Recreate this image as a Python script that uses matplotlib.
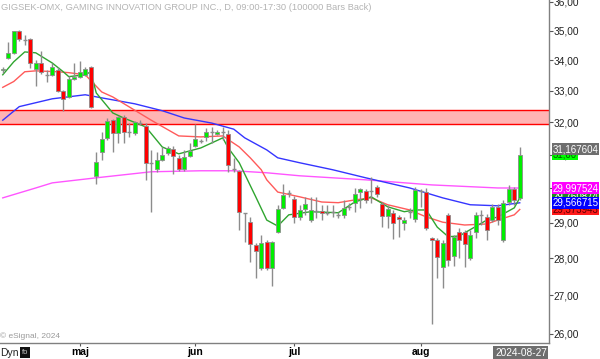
import matplotlib
matplotlib.use("Agg")
import matplotlib.pyplot as plt
import matplotlib.ticker as mticker
import pandas as pd

plt.rcParams["font.family"] = ["Liberation Sans", "DejaVu Sans"]

# daily candles, Apr 11 - Aug 27 2024 (Stockholm trading days)
holidays = ["2024-05-01", "2024-05-09", "2024-06-06", "2024-06-21"]
dates = pd.bdate_range("2024-04-11", "2024-08-27", freq="C", holidays=holidays)

opens = [33.68, 34.08, 34.25, 34.99, 34.68, 34.72, 33.72, 33.91, 33.50, 33.52,
         33.68, 32.99, 32.80, 33.37, 33.46, 33.52, 33.78, 30.36, 31.08, 31.51,
         32.06, 31.66, 32.16, 31.70, 31.66, 31.96, 31.88, 30.74, 30.57, 30.84,
         31.05, 31.17, 30.90, 30.57, 30.96, 31.26, 31.40, 31.54, 31.70, 31.63,
         31.69, 31.63, 30.55, 30.51, 29.26, 29.01, 28.37, 27.74, 28.46, 27.74,
         28.74, 29.42, 29.85, 29.68, 29.16, 29.39, 29.07, 29.33, 29.33, 29.28,
         29.31, 29.22, 29.22, 29.45, 29.57, 29.88, 29.91, 29.90, 30.03, 29.54,
         29.19, 29.28, 29.16, 28.99, 29.30, 29.10, 29.92, 29.88, 28.57, 28.51,
         27.77, 29.22, 28.06, 28.74, 28.74, 28.01, 28.74, 29.21, 29.16, 29.07,
         29.45, 28.51, 29.59, 29.97, 29.71]
highs = [33.78, 34.62, 35.00, 35.02, 34.85, 34.75, 34.01, 34.31, 33.68, 33.91,
         33.78, 33.02, 33.49, 33.91, 33.98, 33.78, 33.81, 31.08, 31.69, 32.13,
         32.10, 32.20, 32.23, 31.97, 32.03, 32.06, 31.97, 31.14, 31.08, 31.23,
         31.26, 31.26, 30.99, 31.14, 31.36, 31.94, 31.48, 31.82, 31.85, 31.75,
         31.85, 31.75, 30.90, 30.54, 29.27, 29.16, 28.43, 28.65, 28.51, 28.48,
         29.51, 30.12, 29.94, 29.77, 29.51, 29.74, 29.74, 29.74, 29.51, 29.51,
         29.51, 29.31, 29.65, 29.57, 30.00, 30.00, 29.97, 30.33, 30.09, 29.59,
         29.51, 29.36, 29.22, 29.16, 29.42, 30.03, 29.97, 30.00, 28.58, 28.57,
         28.51, 29.28, 28.65, 28.85, 28.79, 28.79, 29.31, 29.36, 29.25, 29.54,
         29.54, 29.65, 30.09, 30.03, 31.23]
lows = [33.59, 34.04, 34.20, 34.65, 34.52, 33.75, 33.14, 33.55, 33.27, 33.48,
        32.95, 32.36, 32.75, 33.35, 33.43, 33.49, 32.45, 30.12, 30.84, 31.45,
        31.08, 31.36, 31.36, 31.54, 31.60, 31.90, 30.24, 29.31, 30.48, 30.80,
        30.99, 30.42, 30.51, 30.51, 30.93, 31.23, 31.36, 31.42, 31.36, 31.60,
        31.45, 30.48, 30.48, 28.79, 28.46, 27.90, 27.47, 27.68, 27.68, 27.25,
        28.70, 29.39, 29.74, 28.99, 29.07, 29.22, 29.01, 29.13, 29.07, 29.22,
        29.16, 29.13, 29.13, 29.36, 29.31, 29.42, 29.57, 29.57, 29.74, 28.87,
        28.85, 28.54, 28.60, 28.79, 29.13, 29.01, 29.45, 28.79, 26.26, 27.47,
        27.20, 27.79, 27.79, 28.01, 27.77, 27.95, 28.57, 28.93, 28.51, 29.01,
        28.93, 28.46, 29.51, 29.51, 29.65]
closes = [33.72, 34.25, 34.99, 34.72, 34.70, 33.91, 33.91, 33.62, 33.48, 33.78,
          32.99, 32.74, 33.37, 33.46, 33.62, 33.72, 32.49, 30.78, 31.48, 32.03,
          31.66, 32.16, 31.69, 31.69, 32.00, 31.97, 30.75, 30.72, 30.84, 30.99,
          31.20, 30.96, 30.57, 30.93, 31.11, 31.48, 31.38, 31.69, 31.68, 31.69,
          31.70, 30.69, 30.54, 29.31, 29.25, 28.40, 28.21, 28.43, 27.74, 28.46,
          29.39, 29.80, 29.86, 29.16, 29.36, 29.54, 29.36, 29.34, 29.28, 29.31,
          29.28, 29.23, 29.42, 29.44, 29.83, 29.97, 29.65, 29.91, 29.83, 29.19,
          29.39, 28.99, 29.10, 29.07, 29.31, 29.94, 29.91, 28.85, 28.51, 28.04,
          28.43, 27.95, 28.60, 28.51, 28.40, 28.65, 29.22, 29.22, 28.79, 29.45,
          29.07, 29.57, 29.97, 29.65, 31.00]

# moving averages (bar index, price)
ma_long_idx = [0, 6, 9, 17, 27, 36, 42, 48, 54, 66, 78, 90, 94]
ma_long = [29.71, 30.00, 30.15, 30.30, 30.48, 30.51, 30.51, 30.45, 30.36,
           30.24, 30.09, 30.00, 29.998]
ma_mid_idx = [0, 3, 9, 15, 18, 24, 29, 33, 38, 42, 44, 48, 50, 54, 60, 66,
              74, 80, 85, 90, 94]
ma_mid = [32.06, 32.49, 32.74, 32.87, 32.77, 32.58, 32.36, 32.13, 31.97,
          31.78, 31.51, 31.14, 30.90, 30.75, 30.54, 30.30, 30.00, 29.71,
          29.51, 29.48, 29.567]
ma_red_idx = [0, 2, 4, 6, 10, 12, 15, 18, 20, 27, 32, 36, 40, 43, 45, 47, 48,
              50, 54, 58, 61, 64, 67, 70, 74, 77, 80, 84, 88, 90, 93, 94]
ma_red = [33.11, 33.30, 33.62, 33.65, 33.62, 33.59, 33.52, 32.96, 32.80,
          32.06, 31.57, 31.54, 31.57, 31.23, 30.90, 30.54, 30.24, 29.88,
          29.74, 29.59, 29.57, 29.65, 29.71, 29.51, 29.36, 29.16, 29.01,
          28.93, 28.96, 29.07, 29.22, 29.374]
ma_fast_idx = [0, 2, 4, 6, 9, 11, 12, 15, 16, 17, 20, 22, 26, 29, 32, 36, 40,
               41, 43, 46, 48, 50, 52, 56, 61, 64, 67, 70, 73, 75, 77, 79, 81,
               83, 88, 90, 93, 94]
ma_fast = [33.52, 33.95, 34.28, 34.25, 33.91, 33.62, 33.46, 33.52, 33.62,
           32.93, 32.29, 32.13, 31.85, 31.23, 31.02, 31.20, 31.51, 31.20,
           30.75, 29.74, 29.07, 28.90, 29.22, 29.31, 29.28, 29.59, 29.74,
           29.45, 29.31, 29.36, 29.36, 28.87, 28.60, 28.62, 29.07, 29.16,
           29.42, 29.71]

zone_low, zone_high = 31.94, 32.38
yticks = [26, 27, 28, 29, 30, 31, 32, 33, 34, 35, 36]
month_names = {5: "maj", 6: "jun", 7: "jul", 8: "aug"}

# right-hand value tags: (value, text, face, text colour, z)
tags = [(31.00, "31,00", "#00ff00", "#006400", 5),
        (31.167604, "31,167604", "#6e6e6e", "white", 6),
        (29.760874, "29,760874", "#1f8a1f", "white", 5),
        (29.373943, "29,373943", "#ff1a1a", "#5a0000", 5),
        (29.997524, "29,997524", "#ff00ff", "white", 6),
        (29.566715, "29,566715", "#0000ff", "white", 7)]

fig = plt.figure(figsize=(6, 3.59), dpi=100)
ax = fig.add_axes([0, 16 / 359, 549 / 600, 343 / 359])

ax.set_yscale("log")
n = len(closes)
x = list(range(n))

# resistance zone
ax.axhspan(zone_low, zone_high, color="#ffb4b4", zorder=1, lw=0)
ax.axhline(zone_low, color="#ff0000", lw=1, zorder=1.1)
ax.axhline(zone_high, color="#ff0000", lw=1, zorder=1.1)

ax.plot(ma_long_idx, ma_long, color="#ff55ff", lw=1, zorder=2)
ax.plot(ma_mid_idx, ma_mid, color="#3535ff", lw=1, zorder=2)
ax.plot(ma_red_idx, ma_red, color="#ff5a5a", lw=1, zorder=2)
ax.plot(ma_fast_idx, ma_fast, color="#2fa52f", lw=1, zorder=2)

# candles
ax.vlines(x, lows, highs, color="#8c8c8c", lw=1, zorder=3)
for i in x:
    o, c = opens[i], closes[i]
    col = "#00ee00" if c >= o else "#ff0000"
    lo, hi = min(o, c), max(o, c)
    if hi - lo < 0.03:
        ax.hlines(o, i - 0.38, i + 0.38, color="#8c8c8c", lw=1, zorder=4)
    else:
        ax.bar(i, hi - lo, bottom=lo, width=0.72, color=col,
               edgecolor="#8c8c8c", lw=0.6, zorder=4)

ax.set_xlim(-0.5, -0.5 + 549 / 5.5)
ax.set_ylim(25.77, 36.07)

ax.yaxis.tick_right()
ax.yaxis.set_major_locator(mticker.FixedLocator(yticks))
ax.yaxis.set_minor_locator(mticker.NullLocator())
ax.yaxis.set_major_formatter(
    mticker.FuncFormatter(lambda v, p: f"{v:.2f}".replace(".", ",")))
ax.tick_params(axis="y", length=3, width=0.8, color="#555555",
               labelsize=7.3, labelcolor="#222222", pad=0.5)

month_pos = [i for i in range(1, n) if dates[i].month != dates[i - 1].month]
ax.set_xticks(month_pos)
ax.set_xticklabels([month_names[dates[i].month] for i in month_pos],
                   fontweight="bold", fontsize=7.5)
ax.tick_params(axis="x", length=2, color="#555555", pad=1)

for s in ["top", "left"]:
    ax.spines[s].set_visible(False)
for s in ["right", "bottom"]:
    ax.spines[s].set_color("#808080")
    ax.spines[s].set_linewidth(1)

for val, txt, face, tcol, z in tags:
    ax.annotate(txt, xy=(1.0, val), xycoords=("axes fraction", "data"),
                xytext=(2.5, 0), textcoords="offset points", fontsize=7,
                color=tcol, va="center", ha="left", zorder=z,
                annotation_clip=False,
                bbox=dict(boxstyle="square,pad=0.1", fc=face, ec="none"))

fig.text(0.002, 0.992, "GIGSEK-OMX, GAMING INNOVATION GROUP INC., D, 09:00-17:30 "
         "(100000 Bars Back)", color="#b4b4b4", fontsize=6.7, va="top")
fig.text(0.0, 0.064, "© eSignal, 2024", color="#9a9a9a", fontsize=6, va="center")
fig.text(0.0, 0.017, "Dyn", color="#222222", fontsize=7.5, va="center")
fig.text(0.036, 0.017, "fo", color="#cccccc", fontsize=5.5, va="center",
         bbox=dict(boxstyle="square,pad=0.25", fc="#111111", ec="none"))
fig.text(0.825, 0.017, "2024-08-27", color="white", fontsize=7.3, va="center",
         bbox=dict(boxstyle="square,pad=0.15", fc="#6e6e6e", ec="none"))

fig.savefig("out.png", dpi=100)
